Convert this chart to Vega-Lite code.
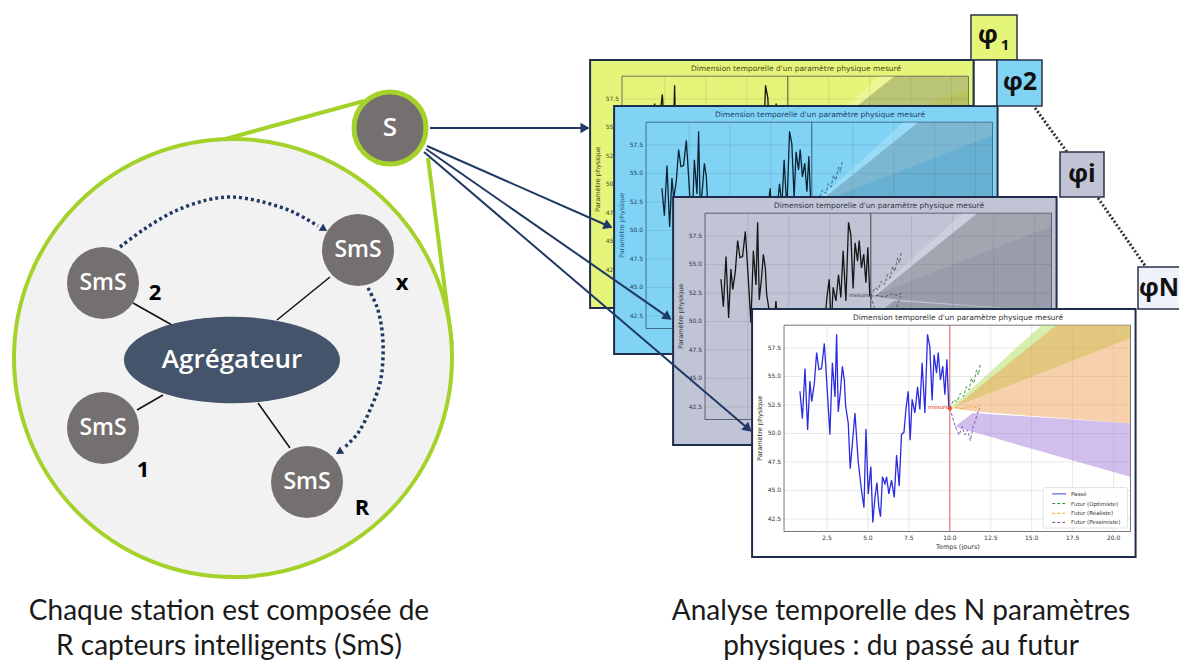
{
"$schema":"https://vega.github.io/schema/vega-lite/v6.json",
"width":1179,"height":668,
"autosize":{"type":"fit","contains":"padding"},
"padding":0,
"background":"#ffffff",
"config":{"view":{"stroke":null}},
"data":{"values":[{}]},
"datasets":{
"series":[{"t":0.85,"v":53.7},{"t":1.0,"v":51.3},{"t":1.16,"v":55.7},{"t":1.32,"v":50.3},{"t":1.46,"v":54.6},{"t":1.57,"v":52.8},{"t":1.73,"v":54.4},{"t":1.87,"v":57.1},{"t":2.01,"v":55.6},{"t":2.17,"v":55.7},{"t":2.34,"v":57.9},{"t":2.48,"v":54.7},{"t":2.68,"v":49.9},{"t":2.83,"v":56.2},{"t":2.99,"v":53.2},{"t":3.09,"v":58.7},{"t":3.19,"v":51.9},{"t":3.33,"v":53.8},{"t":3.44,"v":55.9},{"t":3.56,"v":54.7},{"t":3.64,"v":52.4},{"t":3.8,"v":50.9},{"t":3.92,"v":46.9},{"t":4.21,"v":51.8},{"t":4.41,"v":47.5},{"t":4.61,"v":45.0},{"t":4.76,"v":43.5},{"t":4.88,"v":50.4},{"t":5.02,"v":44.7},{"t":5.18,"v":47.1},{"t":5.3,"v":42.2},{"t":5.43,"v":44.4},{"t":5.55,"v":45.7},{"t":5.67,"v":43.5},{"t":5.77,"v":42.7},{"t":5.89,"v":46.2},{"t":6.04,"v":45.6},{"t":6.14,"v":46.2},{"t":6.28,"v":44.7},{"t":6.44,"v":45.9},{"t":6.61,"v":44.4},{"t":6.75,"v":48.1},{"t":6.91,"v":45.4},{"t":7.05,"v":49.9},{"t":7.2,"v":50.1},{"t":7.32,"v":52.1},{"t":7.46,"v":53.7},{"t":7.58,"v":49.4},{"t":7.7,"v":53.0},{"t":7.87,"v":51.8},{"t":8.03,"v":54.1},{"t":8.17,"v":52.1},{"t":8.31,"v":56.2},{"t":8.48,"v":51.8},{"t":8.64,"v":58.7},{"t":8.78,"v":57.6},{"t":8.92,"v":52.9},{"t":9.04,"v":56.9},{"t":9.19,"v":55.3},{"t":9.29,"v":57.1},{"t":9.43,"v":54.7},{"t":9.57,"v":55.9},{"t":9.7,"v":53.4},{"t":9.82,"v":56.5},{"t":9.94,"v":52.2}],
"fut":[{"s":"opt","t":10.0,"v":52.21},{"s":"opt","t":10.24,"v":52.94},{"s":"opt","t":10.44,"v":52.79},{"s":"opt","t":10.65,"v":53.53},{"s":"opt","t":10.85,"v":53.24},{"s":"opt","t":11.01,"v":54.11},{"s":"opt","t":11.18,"v":53.81},{"s":"opt","t":11.32,"v":54.84},{"s":"opt","t":11.46,"v":54.4},{"s":"opt","t":11.63,"v":55.57},{"s":"opt","t":11.75,"v":55.13},{"s":"opt","t":11.87,"v":56.16},
{"s":"real","t":10.0,"v":52.21},{"s":"real","t":10.41,"v":52.3},{"s":"real","t":10.81,"v":52.12},{"s":"real","t":11.22,"v":52.41},{"s":"real","t":11.63,"v":52.3},{"s":"real","t":11.87,"v":52.5},
{"s":"pess","t":10.0,"v":52.21},{"s":"pess","t":10.16,"v":51.47},{"s":"pess","t":10.33,"v":50.6},{"s":"pess","t":10.57,"v":49.87},{"s":"pess","t":10.75,"v":50.6},{"s":"pess","t":10.91,"v":49.87},{"s":"pess","t":11.08,"v":50.31},{"s":"pess","t":11.26,"v":49.37},{"s":"pess","t":11.42,"v":50.6},{"s":"pess","t":11.57,"v":51.18},{"s":"pess","t":11.69,"v":51.77},{"s":"pess","t":11.83,"v":52.21}],
"cones":[{"c":"opt","t":10.0,"lo":52.2,"hi":52.2},{"c":"opt","t":15.6,"lo":55.33,"hi":59.5},{"c":"opt","t":21.0,"lo":58.35,"hi":59.5},
{"c":"real","t":10.2,"lo":52.2,"hi":52.2},{"c":"real","t":11.7,"lo":51.9,"hi":53.94},{"c":"real","t":16.5,"lo":51.38,"hi":59.5},{"c":"real","t":21.0,"lo":50.9,"hi":59.5},
{"c":"pess","t":10.3,"lo":50.6,"hi":50.6},{"c":"pess","t":11.4,"lo":50.15,"hi":51.8},{"c":"pess","t":21.0,"lo":46.2,"hi":50.9}],
"ticksX":[{"t":2.5,"lab":"2.5"},{"t":5.0,"lab":"5.0"},{"t":7.5,"lab":"7.5"},{"t":10.0,"lab":"10.0"},{"t":12.5,"lab":"12.5"},{"t":15.0,"lab":"15.0"},{"t":17.5,"lab":"17.5"},{"t":20.0,"lab":"20.0"}],
"ticksY":[{"v":42.5,"lab":"42.5"},{"v":45.0,"lab":"45.0"},{"v":47.5,"lab":"47.5"},{"v":50.0,"lab":"50.0"},{"v":52.5,"lab":"52.5"},{"v":55.0,"lab":"55.0"},{"v":57.5,"lab":"57.5"}],
"legend":[{"s":"Passé","v":44.7},{"s":"Futur (Optimiste)","v":43.85},{"s":"Futur (Réaliste)","v":43.0},{"s":"Futur (Pessimiste)","v":42.2}],
"links":[{"g":"zoom","x":364,"y":101,"x2":200,"y2":146},{"g":"zoom","x":428,"y":158,"x2":452,"y2":345},
{"g":"conn","x":133,"y":303,"x2":172,"y2":325},{"g":"conn","x":330,"y":277,"x2":277,"y2":320},{"g":"conn","x":137,"y":410,"x2":163,"y2":395},{"g":"conn","x":290,"y":448,"x2":258,"y2":403},
{"g":"dot","x":1035,"y":108,"x2":1067,"y2":152},{"g":"dot","x":1098,"y":198,"x2":1146,"y2":267},
{"g":"arrow","x":430,"y":128,"x2":585,"y2":128},{"g":"arrow","x":427,"y":146,"x2":608.4,"y2":226},{"g":"arrow","x":426,"y":149,"x2":667.9,"y2":317.1},{"g":"arrow","x":424,"y":152,"x2":748.2,"y2":428.8}],
"heads":[{"g":"s","x":585,"y":128,"ang":0},{"g":"s","x":608.4,"y":226,"ang":23.8},{"g":"s","x":667.9,"y":317.1,"ang":34.8},{"g":"s","x":748.2,"y":428.8,"ang":40.5},{"g":"arc","x":324,"y":229,"ang":32},{"g":"arc","x":339,"y":452,"ang":148}],
"arcs":[{"arc":"a","o":1,"x":120,"y":247},{"arc":"a","o":2,"x":143,"y":230},{"arc":"a","o":3,"x":173,"y":212},{"arc":"a","o":4,"x":207,"y":200},{"arc":"a","o":5,"x":233,"y":197},{"arc":"a","o":6,"x":263,"y":202},{"arc":"a","o":7,"x":293,"y":212},{"arc":"a","o":8,"x":318,"y":226},
{"arc":"b","o":1,"x":368,"y":288},{"arc":"b","o":2,"x":377,"y":307},{"arc":"b","o":3,"x":382,"y":330},{"arc":"b","o":4,"x":383,"y":357},{"arc":"b","o":5,"x":380,"y":383},{"arc":"b","o":6,"x":370,"y":410},{"arc":"b","o":7,"x":358,"y":433},{"arc":"b","o":8,"x":344,"y":448}],
"nodes":[{"x":103,"y":283,"lab":"SmS"},{"x":358,"y":250,"lab":"SmS"},{"x":103,"y":428,"lab":"SmS"},{"x":307,"y":482,"lab":"SmS"}],
"nums":[{"x":155,"y":293,"lab":"2"},{"x":402,"y":283,"lab":"x"},{"x":143,"y":470,"lab":"1"},{"x":362,"y":508,"lab":"R"}],
"captions":[{"x":229,"y":612,"lab":"Chaque station est composée de"},{"x":229,"y":647,"lab":"R capteurs intelligents (SmS)"},{"x":901,"y":612,"lab":"Analyse temporelle des N paramètres"},{"x":901,"y":647,"lab":"physiques : du passé au futur"}],
"boxes":[{"id":"p1","x":971,"y":15,"x2":1017,"y2":60},{"id":"blank","x":974,"y":60,"x2":997,"y2":106},{"id":"p2","x":997,"y":60,"x2":1042,"y2":106},{"id":"pi","x":1060,"y":152,"x2":1104,"y2":197},{"id":"pN","x":1138,"y":267,"x2":1195,"y2":309}]
},
"resolve":{"scale":{"x":"independent","y":"independent","color":"independent","strokeDash":"independent"}},
"layer":[
{
"encoding":{"x":{"field":"x","type":"quantitative","scale":{"domain":[0,1179],"range":[0,1179],"nice":false,"zero":false},"axis":null},"y":{"field":"y","type":"quantitative","scale":{"domain":[0,668],"range":[0,668],"nice":false,"zero":false},"axis":null}},
"layer":[
{"data":{"name":"links"},"transform":[{"filter":"datum.g == 'zoom'"}],"mark":{"type":"rule","color":"#a4d22b","strokeWidth":4},"encoding":{"x2":{"field":"x2"},"y2":{"field":"y2"}}},
{"data":{"values":[{"x":233,"y":358}]},"mark":{"type":"point","shape":"circle","size":191844,"filled":true,"fill":"#f2f2f2","stroke":"#a4d22b","strokeWidth":4,"opacity":1}},
{"data":{"name":"links"},"transform":[{"filter":"datum.g == 'conn'"}],"mark":{"type":"rule","color":"#111111","strokeWidth":1.5},"encoding":{"x2":{"field":"x2"},"y2":{"field":"y2"}}},
{"data":{"values":[{"x":232,"y":360}]},"mark":{"type":"point","shape":"M -1 0 C -1 -0.221 -0.5523 -0.4 0 -0.4 C 0.5523 -0.4 1 -0.221 1 0 C 1 0.221 0.5523 0.4 0 0.4 C -0.5523 0.4 -1 0.221 -1 0 Z","size":46656,"filled":true,"fill":"#44546a","strokeWidth":0,"opacity":1}},
{"data":{"values":[{"x":232,"y":360,"lab":"Agrégateur"}]},"mark":{"type":"text","font":"Open Sans","fontSize":26,"fontWeight":600,"color":"#ffffff"},"encoding":{"text":{"field":"lab"}}},
{"data":{"name":"nodes"},"mark":{"type":"point","shape":"circle","size":5184,"filled":true,"fill":"#747070","strokeWidth":0,"opacity":1}},
{"data":{"name":"nodes"},"mark":{"type":"text","font":"Open Sans","fontSize":23,"fontWeight":600,"color":"#ffffff"},"encoding":{"text":{"field":"lab"}}},
{"data":{"name":"nums"},"mark":{"type":"text","font":"Open Sans","fontSize":22,"fontWeight":"bold","color":"#000000"},"encoding":{"text":{"field":"lab"}}},
{"data":{"name":"arcs"},"mark":{"type":"line","interpolate":"catmull-rom","color":"#1f3864","strokeWidth":3.5,"strokeDash":[3,3],"strokeCap":"butt"},"encoding":{"detail":{"field":"arc"},"order":{"field":"o"}}},
{"data":{"name":"heads"},"transform":[{"filter":"datum.g == 'arc'"}],"mark":{"type":"point","shape":"triangle-right","size":70,"filled":true,"color":"#1f3864","opacity":1},"encoding":{"angle":{"field":"ang","type":"quantitative","scale":null}}},
{"data":{"values":[{"x":390,"y":128}]},"mark":{"type":"point","shape":"circle","size":5184,"filled":true,"fill":"#747070","stroke":"#a4d22b","strokeWidth":5,"opacity":1}},
{"data":{"values":[{"x":390,"y":128,"lab":"S"}]},"mark":{"type":"text","font":"Open Sans","fontSize":26,"fontWeight":600,"color":"#ffffff"},"encoding":{"text":{"field":"lab"}}},
{"data":{"name":"captions"},"mark":{"type":"text","font":"Lato","fontSize":28,"color":"#1a1a1a"},"encoding":{"text":{"field":"lab"}}}
]
},
{
"resolve":{"scale":{"color":"independent"}},
"layer":[
{"mark":{"type":"rect","fill":"#e5f57a","stroke":"#1f2d4d","strokeWidth":2},"encoding":{"x":{"datum":-2.07,"type":"quantitative","scale":{"domain":[0,21],"range":[624,968],"nice":false,"zero":false},"axis":null},"x2":{"datum":21.34},"y":{"datum":39.17,"type":"quantitative","scale":{"domain":[41.4,59.5],"range":[282.5,76.2],"nice":false,"zero":false},"axis":null},"y2":{"datum":60.92}}},
{"mark":{"type":"text","text":"Dimension temporelle d'un paramètre physique mesuré","font":"DejaVu Sans","fontSize":7.5,"color":"#4a4a20"},"encoding":{"x":{"datum":10.5,"type":"quantitative","axis":null},"y":{"datum":60.1,"type":"quantitative","axis":null}}},
{"data":{"name":"ticksX"},"mark":{"type":"rule","color":"#000000","strokeOpacity":0.13,"strokeWidth":0.7},"encoding":{"x":{"field":"t","type":"quantitative","axis":null},"y":{"datum":41.4,"type":"quantitative","axis":null},"y2":{"datum":59.5}}},
{"data":{"name":"ticksY"},"mark":{"type":"rule","color":"#000000","strokeOpacity":0.13,"strokeWidth":0.7},"encoding":{"x":{"datum":-0.12,"type":"quantitative","axis":null},"x2":{"datum":21.03},"y":{"field":"v","type":"quantitative","axis":null}}},
{"mark":{"type":"rect","fillOpacity":0,"stroke":"#555555","strokeWidth":0.8},"encoding":{"x":{"datum":-0.12,"type":"quantitative","axis":null},"x2":{"datum":21.03},"y":{"datum":41.4,"type":"quantitative","axis":null},"y2":{"datum":59.5}}},
{"data":{"name":"ticksY"},"mark":{"type":"text","align":"right","font":"DejaVu Sans","fontSize":6,"color":"#4a4a20"},"encoding":{"x":{"datum":-0.3,"type":"quantitative","axis":null},"y":{"field":"v","type":"quantitative","axis":null},"text":{"field":"lab"}}},
{"mark":{"type":"text","text":"Paramètre physique","angle":270,"font":"DejaVu Sans","fontSize":6.5,"color":"#4a4a20"},"encoding":{"x":{"datum":-1.6,"type":"quantitative","axis":null},"y":{"datum":50.45,"type":"quantitative","axis":null}}},
{"data":{"name":"cones"},"mark":{"type":"area","fillOpacity":0.2},"encoding":{"x":{"field":"t","type":"quantitative","axis":null},"y":{"field":"lo","type":"quantitative","stack":null,"axis":null},"y2":{"field":"hi"},"color":{"field":"c","type":"nominal","scale":{"domain":["opt","real","pess"],"range":["#ffffff","#000000","#000000"]},"legend":null}}},
{"data":{"name":"series"},"mark":{"type":"line","color":"#151515","strokeWidth":1.3},"encoding":{"x":{"field":"t","type":"quantitative","axis":null},"y":{"field":"v","type":"quantitative","axis":null}}},
{"mark":{"type":"rule","color":"#333333","strokeWidth":0.8},"encoding":{"x":{"datum":10,"type":"quantitative","axis":null},"y":{"datum":41.4,"type":"quantitative","axis":null},"y2":{"datum":59.5}}},
{"data":{"name":"fut"},"mark":{"type":"line","color":"#333333","strokeDash":[3,2],"strokeWidth":0.8},"encoding":{"x":{"field":"t","type":"quantitative","axis":null},"y":{"field":"v","type":"quantitative","axis":null},"detail":{"field":"s"}}}
]
},
{
"resolve":{"scale":{"color":"independent"}},
"layer":[
{"mark":{"type":"rect","fill":"#80d3f5","stroke":"#1f2d4d","strokeWidth":2},"encoding":{"x":{"datum":-2.07,"type":"quantitative","scale":{"domain":[0,21],"range":[648,992],"nice":false,"zero":false},"axis":null},"x2":{"datum":21.34},"y":{"datum":39.17,"type":"quantitative","scale":{"domain":[41.4,59.5],"range":[328.5,122.2],"nice":false,"zero":false},"axis":null},"y2":{"datum":60.92}}},
{"mark":{"type":"text","text":"Dimension temporelle d'un paramètre physique mesuré","font":"DejaVu Sans","fontSize":7.5,"color":"#1f3f66"},"encoding":{"x":{"datum":10.5,"type":"quantitative","axis":null},"y":{"datum":60.1,"type":"quantitative","axis":null}}},
{"data":{"name":"ticksX"},"mark":{"type":"rule","color":"#000000","strokeOpacity":0.13,"strokeWidth":0.7},"encoding":{"x":{"field":"t","type":"quantitative","axis":null},"y":{"datum":41.4,"type":"quantitative","axis":null},"y2":{"datum":59.5}}},
{"data":{"name":"ticksY"},"mark":{"type":"rule","color":"#000000","strokeOpacity":0.13,"strokeWidth":0.7},"encoding":{"x":{"datum":-0.12,"type":"quantitative","axis":null},"x2":{"datum":21.03},"y":{"field":"v","type":"quantitative","axis":null}}},
{"mark":{"type":"rect","fillOpacity":0,"stroke":"#35536e","strokeWidth":0.8},"encoding":{"x":{"datum":-0.12,"type":"quantitative","axis":null},"x2":{"datum":21.03},"y":{"datum":41.4,"type":"quantitative","axis":null},"y2":{"datum":59.5}}},
{"data":{"name":"ticksY"},"mark":{"type":"text","align":"right","font":"DejaVu Sans","fontSize":6,"color":"#1f3f66"},"encoding":{"x":{"datum":-0.3,"type":"quantitative","axis":null},"y":{"field":"v","type":"quantitative","axis":null},"text":{"field":"lab"}}},
{"mark":{"type":"text","text":"Paramètre physique","angle":270,"font":"DejaVu Sans","fontSize":6.5,"color":"#1f5f96"},"encoding":{"x":{"datum":-1.6,"type":"quantitative","axis":null},"y":{"datum":50.45,"type":"quantitative","axis":null}}},
{"data":{"name":"cones"},"mark":{"type":"area","fillOpacity":0.2},"encoding":{"x":{"field":"t","type":"quantitative","axis":null},"y":{"field":"lo","type":"quantitative","stack":null,"axis":null},"y2":{"field":"hi"},"color":{"field":"c","type":"nominal","scale":{"domain":["opt","real","pess"],"range":["#ffffff","#0a2a40","#0a2a40"]},"legend":null}}},
{"data":{"name":"series"},"mark":{"type":"line","color":"#0d2233","strokeWidth":1.3},"encoding":{"x":{"field":"t","type":"quantitative","axis":null},"y":{"field":"v","type":"quantitative","axis":null}}},
{"mark":{"type":"rule","color":"#2a4a66","strokeWidth":0.8},"encoding":{"x":{"datum":10,"type":"quantitative","axis":null},"y":{"datum":41.4,"type":"quantitative","axis":null},"y2":{"datum":59.5}}},
{"data":{"name":"fut"},"mark":{"type":"line","color":"#2a4a66","strokeDash":[3,2],"strokeWidth":0.8},"encoding":{"x":{"field":"t","type":"quantitative","axis":null},"y":{"field":"v","type":"quantitative","axis":null},"detail":{"field":"s"}}}
]
},
{
"resolve":{"scale":{"color":"independent"}},
"layer":[
{"mark":{"type":"rect","fill":"#c0c4d5","stroke":"#1f2d4d","strokeWidth":2},"encoding":{"x":{"datum":-2.07,"type":"quantitative","scale":{"domain":[0,21],"range":[707,1051],"nice":false,"zero":false},"axis":null},"x2":{"datum":21.34},"y":{"datum":39.17,"type":"quantitative","scale":{"domain":[41.4,59.5],"range":[419.5,213.2],"nice":false,"zero":false},"axis":null},"y2":{"datum":60.92}}},
{"mark":{"type":"text","text":"Dimension temporelle d'un paramètre physique mesuré","font":"DejaVu Sans","fontSize":7.5,"color":"#33364a"},"encoding":{"x":{"datum":10.5,"type":"quantitative","axis":null},"y":{"datum":60.1,"type":"quantitative","axis":null}}},
{"data":{"name":"ticksX"},"mark":{"type":"rule","color":"#000000","strokeOpacity":0.13,"strokeWidth":0.7},"encoding":{"x":{"field":"t","type":"quantitative","axis":null},"y":{"datum":41.4,"type":"quantitative","axis":null},"y2":{"datum":59.5}}},
{"data":{"name":"ticksY"},"mark":{"type":"rule","color":"#000000","strokeOpacity":0.13,"strokeWidth":0.7},"encoding":{"x":{"datum":-0.12,"type":"quantitative","axis":null},"x2":{"datum":21.03},"y":{"field":"v","type":"quantitative","axis":null}}},
{"mark":{"type":"rect","fillOpacity":0,"stroke":"#44475a","strokeWidth":0.8},"encoding":{"x":{"datum":-0.12,"type":"quantitative","axis":null},"x2":{"datum":21.03},"y":{"datum":41.4,"type":"quantitative","axis":null},"y2":{"datum":59.5}}},
{"data":{"name":"ticksY"},"mark":{"type":"text","align":"right","font":"DejaVu Sans","fontSize":6,"color":"#33364a"},"encoding":{"x":{"datum":-0.3,"type":"quantitative","axis":null},"y":{"field":"v","type":"quantitative","axis":null},"text":{"field":"lab"}}},
{"mark":{"type":"text","text":"Paramètre physique","angle":270,"font":"DejaVu Sans","fontSize":6.5,"color":"#33364a"},"encoding":{"x":{"datum":-1.6,"type":"quantitative","axis":null},"y":{"datum":50.45,"type":"quantitative","axis":null}}},
{"data":{"name":"cones"},"mark":{"type":"area","fillOpacity":0.2},"encoding":{"x":{"field":"t","type":"quantitative","axis":null},"y":{"field":"lo","type":"quantitative","stack":null,"axis":null},"y2":{"field":"hi"},"color":{"field":"c","type":"nominal","scale":{"domain":["opt","real","pess"],"range":["#ffffff","#000000","#000000"]},"legend":null}}},
{"data":{"name":"series"},"mark":{"type":"line","color":"#151515","strokeWidth":1.3},"encoding":{"x":{"field":"t","type":"quantitative","axis":null},"y":{"field":"v","type":"quantitative","axis":null}}},
{"mark":{"type":"rule","color":"#333333","strokeWidth":0.8},"encoding":{"x":{"datum":10,"type":"quantitative","axis":null},"y":{"datum":41.4,"type":"quantitative","axis":null},"y2":{"datum":59.5}}},
{"data":{"name":"fut"},"mark":{"type":"line","color":"#444444","strokeDash":[3,2],"strokeWidth":0.8},"encoding":{"x":{"field":"t","type":"quantitative","axis":null},"y":{"field":"v","type":"quantitative","axis":null},"detail":{"field":"s"}}},
{"mark":{"type":"text","text":"mesure","font":"DejaVu Sans","fontSize":5.5,"color":"#444444"},"encoding":{"x":{"datum":9.3,"type":"quantitative","axis":null},"y":{"datum":52.35,"type":"quantitative","axis":null}}}
]
},
{
"resolve":{"scale":{"color":"independent","strokeDash":"independent"}},
"layer":[
{"mark":{"type":"rect","fill":"#ffffff","stroke":"#1f2d4d","strokeWidth":2},"encoding":{"x":{"datum":-2.07,"type":"quantitative","scale":{"domain":[0,21],"range":[786,1130],"nice":false,"zero":false},"axis":null},"x2":{"datum":21.34},"y":{"datum":39.17,"type":"quantitative","scale":{"domain":[41.4,59.5],"range":[531.5,325.2],"nice":false,"zero":false},"axis":null},"y2":{"datum":60.92}}},
{"mark":{"type":"text","text":"Dimension temporelle d'un paramètre physique mesuré","font":"DejaVu Sans","fontSize":7.5,"color":"#333333"},"encoding":{"x":{"datum":10.5,"type":"quantitative","axis":null},"y":{"datum":60.1,"type":"quantitative","axis":null}}},
{"data":{"name":"ticksX"},"mark":{"type":"rule","color":"#000000","strokeOpacity":0.13,"strokeWidth":0.7},"encoding":{"x":{"field":"t","type":"quantitative","axis":null},"y":{"datum":41.4,"type":"quantitative","axis":null},"y2":{"datum":59.5}}},
{"data":{"name":"ticksY"},"mark":{"type":"rule","color":"#000000","strokeOpacity":0.13,"strokeWidth":0.7},"encoding":{"x":{"datum":-0.12,"type":"quantitative","axis":null},"x2":{"datum":21.03},"y":{"field":"v","type":"quantitative","axis":null}}},
{"mark":{"type":"rect","fillOpacity":0,"stroke":"#555555","strokeWidth":0.8},"encoding":{"x":{"datum":-0.12,"type":"quantitative","axis":null},"x2":{"datum":21.03},"y":{"datum":41.4,"type":"quantitative","axis":null},"y2":{"datum":59.5}}},
{"data":{"name":"ticksY"},"mark":{"type":"text","align":"right","font":"DejaVu Sans","fontSize":6,"color":"#333333"},"encoding":{"x":{"datum":-0.3,"type":"quantitative","axis":null},"y":{"field":"v","type":"quantitative","axis":null},"text":{"field":"lab"}}},
{"data":{"name":"ticksX"},"mark":{"type":"text","font":"DejaVu Sans","fontSize":6,"color":"#333333"},"encoding":{"x":{"field":"t","type":"quantitative","axis":null},"y":{"datum":40.85,"type":"quantitative","axis":null},"text":{"field":"lab"}}},
{"mark":{"type":"text","text":"Temps (jours)","font":"DejaVu Sans","fontSize":6.5,"color":"#333333"},"encoding":{"x":{"datum":10.5,"type":"quantitative","axis":null},"y":{"datum":40.0,"type":"quantitative","axis":null}}},
{"mark":{"type":"text","text":"Paramètre physique","angle":270,"font":"DejaVu Sans","fontSize":6.5,"color":"#333333"},"encoding":{"x":{"datum":-1.6,"type":"quantitative","axis":null},"y":{"datum":50.45,"type":"quantitative","axis":null}}},
{"data":{"name":"cones"},"mark":{"type":"area","fillOpacity":0.45},"encoding":{"x":{"field":"t","type":"quantitative","axis":null},"y":{"field":"lo","type":"quantitative","stack":null,"axis":null},"y2":{"field":"hi"},"color":{"field":"c","type":"nominal","scale":{"domain":["opt","real","pess"],"range":["#a6d94a","#ee9844","#9b6fd6"]},"legend":null}}},
{"data":{"name":"series"},"mark":{"type":"line","color":"#2b2be0","strokeWidth":1.3},"encoding":{"x":{"field":"t","type":"quantitative","axis":null},"y":{"field":"v","type":"quantitative","axis":null}}},
{"mark":{"type":"rule","color":"#d94040","strokeWidth":0.8},"encoding":{"x":{"datum":10,"type":"quantitative","axis":null},"y":{"datum":41.4,"type":"quantitative","axis":null},"y2":{"datum":59.5}}},
{"data":{"name":"fut"},"mark":{"type":"line","strokeDash":[3,2],"strokeWidth":0.9},"encoding":{"x":{"field":"t","type":"quantitative","axis":null},"y":{"field":"v","type":"quantitative","axis":null},"color":{"field":"s","type":"nominal","scale":{"domain":["opt","real","pess"],"range":["#2e8b2e","#f2a22a","#6e4aa8"]},"legend":null}}},
{"mark":{"type":"text","text":"mesure","font":"DejaVu Sans","fontSize":5.5,"color":"#e03030"},"encoding":{"x":{"datum":9.3,"type":"quantitative","axis":null},"y":{"datum":52.35,"type":"quantitative","axis":null}}},
{"mark":{"type":"point","filled":true,"color":"#e8501e","size":18,"opacity":1},"encoding":{"x":{"datum":10,"type":"quantitative","axis":null},"y":{"datum":52.2,"type":"quantitative","axis":null}}},
{"mark":{"type":"rect","fill":"#ffffff","stroke":"#cccccc","strokeWidth":0.6,"cornerRadius":2},"encoding":{"x":{"datum":15.7,"type":"quantitative","axis":null},"x2":{"datum":20.85},"y":{"datum":41.7,"type":"quantitative","axis":null},"y2":{"datum":45.25}}},
{"data":{"name":"legend"},"mark":{"type":"rule","strokeWidth":1},"encoding":{"x":{"datum":16.25,"type":"quantitative","axis":null},"x2":{"datum":17.1},"y":{"field":"v","type":"quantitative","axis":null},"color":{"field":"s","type":"nominal","scale":{"domain":["Passé","Futur (Optimiste)","Futur (Réaliste)","Futur (Pessimiste)"],"range":["#2b2be0","#2e8b2e","#f2a22a","#6e4aa8"]},"legend":null},"strokeDash":{"field":"s","type":"nominal","scale":{"domain":["Passé","Futur (Optimiste)","Futur (Réaliste)","Futur (Pessimiste)"],"range":[[1,0],[3,2],[3,2],[3,2]]},"legend":null}}},
{"data":{"name":"legend"},"mark":{"type":"text","align":"left","font":"DejaVu Sans","fontSize":5.5,"color":"#333333"},"encoding":{"x":{"datum":17.4,"type":"quantitative","axis":null},"y":{"field":"v","type":"quantitative","axis":null},"text":{"field":"s"}}}
]
},
{
"encoding":{"x":{"field":"x","type":"quantitative","scale":{"domain":[0,1179],"range":[0,1179],"nice":false,"zero":false},"axis":null},"y":{"field":"y","type":"quantitative","scale":{"domain":[0,668],"range":[0,668],"nice":false,"zero":false},"axis":null}},
"layer":[
{"data":{"name":"boxes"},"mark":{"type":"rect","stroke":"#2a3548","strokeWidth":1.5},"encoding":{"x2":{"field":"x2"},"y2":{"field":"y2"},"color":{"field":"id","type":"nominal","scale":{"domain":["p1","blank","p2","pi","pN"],"range":["#e5f57a","#ffffff","#80d3f5","#c0c4d5","#eef2fb"]},"legend":null}}},
{"data":{"values":[{"x":988,"y":35,"lab":"φ"},{"x":1020,"y":82,"lab":"φ2"},{"x":1082,"y":174,"lab":"φi"}]},"mark":{"type":"text","font":"Open Sans","fontSize":25,"fontWeight":"bold","color":"#111111"},"encoding":{"text":{"field":"lab"}}},
{"data":{"values":[{"x":1005,"y":45,"lab":"1"}]},"mark":{"type":"text","font":"Open Sans","fontSize":15,"fontWeight":"bold","color":"#111111"},"encoding":{"text":{"field":"lab"}}},
{"data":{"values":[{"x":1139,"y":288,"lab":"φN"}]},"mark":{"type":"text","align":"left","font":"Open Sans","fontSize":25,"fontWeight":"bold","color":"#111111"},"encoding":{"text":{"field":"lab"}}},
{"data":{"name":"links"},"transform":[{"filter":"datum.g == 'dot'"}],"mark":{"type":"rule","color":"#333333","strokeWidth":3,"strokeDash":[2,2]},"encoding":{"x2":{"field":"x2"},"y2":{"field":"y2"}}},
{"data":{"name":"links"},"transform":[{"filter":"datum.g == 'arrow'"}],"mark":{"type":"rule","color":"#1f3864","strokeWidth":2},"encoding":{"x2":{"field":"x2"},"y2":{"field":"y2"}}},
{"data":{"name":"heads"},"transform":[{"filter":"datum.g == 's'"}],"mark":{"type":"point","shape":"triangle-right","size":110,"filled":true,"color":"#1f3864","opacity":1},"encoding":{"angle":{"field":"ang","type":"quantitative","scale":null}}}
]
}
]
}
